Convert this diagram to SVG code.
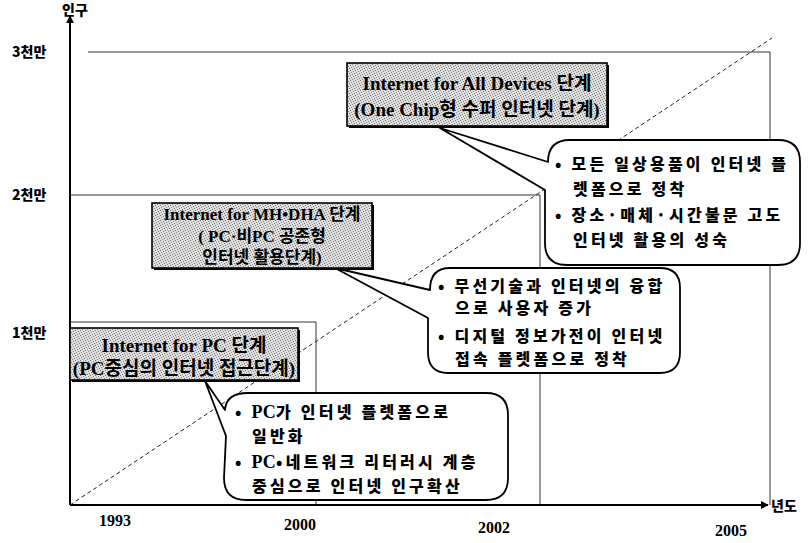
<svg xmlns="http://www.w3.org/2000/svg" width="811" height="543" viewBox="0 0 811 543">
<defs>
<pattern id="stip" width="5" height="5" patternUnits="userSpaceOnUse">
<rect width="5" height="5" fill="#dedede"/>
<rect x="0" y="0" width="1" height="1" fill="#707070"/>
<rect x="3" y="1" width="1" height="1" fill="#808080"/>
<rect x="1" y="2" width="1" height="1" fill="#909090"/>
<rect x="4" y="3" width="1" height="1" fill="#777"/>
<rect x="2" y="4" width="1" height="1" fill="#888"/>
</pattern>
<marker id="arr" viewBox="0 0 10 10" refX="9" refY="5" markerWidth="8" markerHeight="8" markerUnits="userSpaceOnUse" orient="auto">
<path d="M0,0 L10,5 L0,10 Z" fill="#000"/>
</marker>
</defs>
<style>
.grid{stroke:#333;stroke-width:1;fill:none}
.axis{stroke:#000;stroke-width:2;fill:none}
.diag{stroke:#222;stroke-width:1;stroke-dasharray:4 3;fill:none}
.box{fill:url(#stip);stroke:#000;stroke-width:1.6}
.shd{fill:#000}
.bub{fill:#fff;stroke:#000;stroke-width:1.8;stroke-linejoin:round}
.ax{font-family:"Noto Sans CJK KR","Noto Sans",sans-serif;font-weight:900;font-size:14px;fill:#000}
.yr{font-family:"Liberation Serif",serif;font-weight:700;font-size:16px;fill:#000}
.bt{font-family:"Liberation Serif","Noto Sans CJK KR",serif;font-weight:700;font-size:19px;fill:#000}
.ct{font-family:"Noto Sans CJK KR","Noto Sans",sans-serif;font-weight:900;font-size:16px;fill:#000;letter-spacing:3.2px}
.ser{font-family:"Liberation Serif",serif;font-weight:700;font-size:18px;letter-spacing:0.3px}
</style>
<rect width="811" height="543" fill="#fff"/>
<g id="grid">
<line class="grid" x1="88" y1="52" x2="770" y2="52"/>
<line class="grid" x1="770" y1="52" x2="770" y2="505"/>
<line class="grid" x1="70" y1="195" x2="540" y2="195"/>
<line class="grid" x1="540" y1="195" x2="540" y2="505"/>
<line class="grid" x1="70" y1="322" x2="316" y2="322"/>
<line class="grid" x1="316" y1="322" x2="316" y2="505"/>
<line class="diag" x1="70" y1="505" x2="772" y2="38"/>
</g>
<g id="axes">
<line class="axis" x1="70" y1="505" x2="70" y2="16" marker-end="url(#arr)"/>
<line class="axis" x1="70" y1="505" x2="768" y2="505" marker-end="url(#arr)"/>
<text class="ax" x="62" y="15">인구</text>
<text class="ax" x="771" y="511">년도</text>
<text class="ax" x="12" y="57">3천만</text>
<text class="ax" x="12" y="200">2천만</text>
<text class="ax" x="12" y="338">1천만</text>
<text class="yr" x="115" y="526" text-anchor="middle">1993</text>
<text class="yr" x="300" y="530" text-anchor="middle">2000</text>
<text class="yr" x="494" y="533" text-anchor="middle">2002</text>
<text class="yr" x="731" y="536" text-anchor="middle">2005</text>
</g>
<g id="callout3">
<path class="bub" d="M548,162 Q548,140 570,140 L778,140 Q800,140 800,162 L800,243 Q800,265 778,265 L567,265 Q545,265 545,243 L545,190 L440,128 Z"/>
<text class="ct" x="555" y="170">• 모든 일상용품이 인터넷 플</text>
<text class="ct" x="573" y="195">렛폼으로 정착</text>
<text class="ct" x="555" y="221">• 장소·매체·시간불문 고도</text>
<text class="ct" x="573" y="246">인터넷 활용의 성숙</text>
</g>
<g id="box3">
<rect class="shd" x="349" y="65" width="260" height="63"/>
<rect class="box" x="347" y="63" width="260" height="63"/>
<text class="bt" x="477" y="90" text-anchor="middle">Internet for All Devices 단계</text>
<text class="bt" x="477" y="116" text-anchor="middle">(One Chip형 수퍼 인터넷 단계)</text>
</g>
<g id="callout2">
<path class="bub" d="M430,290 Q430,268 450,268 L660,268 Q680,268 680,288 L680,352 Q680,373 660,373 L448,373 Q428,373 428,352 L428,318 L335,268 Z"/>
<text class="ct" x="438" y="292">• 무선기술과 인터넷의 융합</text>
<text class="ct" x="455" y="314">으로 사용자 증가</text>
<text class="ct" x="438" y="342">• 디지털 정보가전이 인터넷</text>
<text class="ct" x="455" y="365">접속 플렛폼으로 정착</text>
</g>
<g id="box2">
<rect class="shd" x="154" y="205" width="220" height="65"/>
<rect class="box" x="152" y="203" width="220" height="65"/>
<text class="bt" x="262" y="220" text-anchor="middle" style="font-size:17px">Internet for MH•DHA 단계</text>
<text class="bt" x="262" y="242" text-anchor="middle" style="font-size:17px">( PC·비PC 공존형</text>
<text class="bt" x="262" y="263" text-anchor="middle" style="font-size:17px">인터넷 활용단계)</text>
</g>
<g id="callout1">
<path class="bub" d="M225,410 Q226,393 248,393 L486,393 Q508,393 508,415 L508,478 Q508,500 486,500 L246,500 Q224,500 224,478 L226,436 L205,381 Z"/>
<text class="ct" x="235" y="418">• <tspan class="ser">PC</tspan>가 인터넷 플렛폼으로</text>
<text class="ct" x="252" y="442">일반화</text>
<text class="ct" x="235" y="468">• <tspan class="ser">PC</tspan>•네트워크 리터러시 계층</text>
<text class="ct" x="252" y="492">중심으로 인터넷 인구확산</text>
</g>
<g id="box1">
<rect class="shd" x="72" y="330" width="228" height="52"/>
<rect class="box" x="70" y="328" width="228" height="52"/>
<text class="bt" x="184" y="352" text-anchor="middle">Internet for PC 단계</text>
<text class="bt" x="184" y="375" text-anchor="middle">(PC중심의 인터넷 접근단계)</text>
</g>
</svg>
